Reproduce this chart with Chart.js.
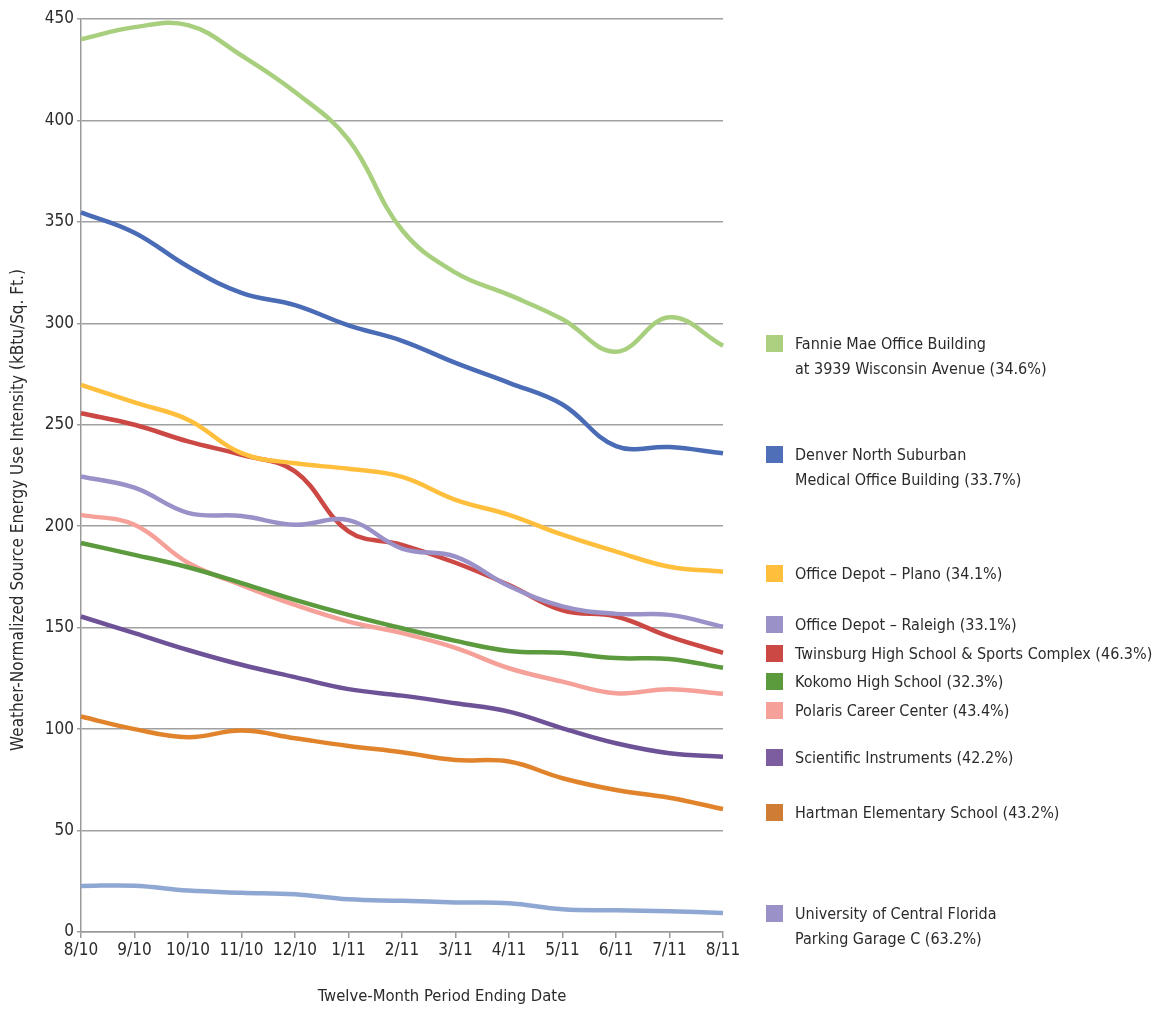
<!DOCTYPE html>
<html>
<head>
<meta charset="utf-8">
<script src="https://cdn.jsdelivr.net/npm/chart.js@4.4.1/dist/chart.umd.min.js"></script>
<style>
    body { margin: 0; background: #fff; }
    #wrap { position: relative; width: 1168px; height: 1009px; }
    #legend { position: absolute; left: 0; top: 0; }
    .legend-item {
        position: absolute;
        left: 766px;
        font-family: 'Liberation Sans Narrow', 'DejaVu Sans Condensed', sans-serif;
        font-size: 16px;
        line-height: 25px;
        color: #2b2b2b;
        white-space: nowrap;
    }
    .legend-item .swatch {
        position: absolute;
        left: 0;
        top: 4px;
        width: 17px;
        height: 17px;
    }
    .legend-item .text { margin-left: 29px; }
</style>
</head>
<body>
<div id="wrap">
    <canvas id="chart" width="1168" height="1009"></canvas>
    <div id="legend"></div>
</div>
<script>
// Categories
const months = ['8/10', '9/10', '10/10', '11/10', '12/10', '1/11', '2/11', '3/11', '4/11', '5/11', '6/11', '7/11', '8/11'];

// Series values (kBtu/Sq. Ft.)
const fannieMae   = [440, 446, 447, 432, 414, 390.5, 346, 325, 314, 302, 286, 303, 289];
const denverNorth = [354.7, 344.7, 328, 315, 309, 299, 291.4, 280.5, 270.7, 260, 239.5, 239, 236];
const depotPlano  = [269.7, 261, 252.5, 236, 231, 228.3, 224.3, 213, 205.6, 195.8, 187.5, 180, 177.6];
const depotRaleigh = [224.5, 219, 206.6, 205, 200.7, 203, 189, 185, 170.5, 160.5, 156.8, 156.3, 150.5];
const twinsburg   = [255.7, 250, 241.8, 235.2, 227, 197.5, 190.8, 182, 171, 158.5, 155.5, 145.6, 137.6];
const kokomo      = [191.7, 185.9, 179.8, 172, 163.7, 156.3, 149.7, 143.5, 138.5, 137.6, 135, 134.6, 130.2];
const polaris     = [205.6, 200.7, 182, 171, 161.2, 153, 147.3, 140, 130, 123.4, 117.7, 119.7, 117.4];
const scientific  = [155.5, 147.3, 139, 131.7, 125.6, 119.7, 116.5, 112.7, 108.6, 100.4, 93, 88.1, 86.4];
const hartman     = [106.2, 100, 96, 99.3, 95.5, 91.7, 88.6, 84.8, 84, 75.8, 70, 66.2, 60.6];
const ucfGarage   = [22.7, 22.8, 20.4, 19.4, 18.6, 16.1, 15.4, 14.6, 14.2, 11.2, 10.7, 10.2, 9.4];

// Series names (legend text)
const seriesNames = [
    'Fannie Mae Office Building<br>at 3939 Wisconsin Avenue (34.6%)',
    'Denver North Suburban<br>Medical Office Building (33.7%)',
    'Office Depot \u2013 Plano (34.1%)',
    'Office Depot \u2013 Raleigh (33.1%)',
    'Twinsburg High School &amp; Sports Complex (46.3%)',
    'Kokomo High School (32.3%)',
    'Polaris Career Center (43.4%)',
    'Scientific Instruments (42.2%)',
    'Hartman Elementary School (43.2%)',
    'University of Central Florida<br>Parking Garage C (63.2%)'
];

// Y tick values
const yTicks = [0, 50, 100, 150, 200, 250, 300, 350, 400, 450];

const seriesData = [fannieMae, denverNorth, depotPlano, depotRaleigh, twinsburg, kokomo, polaris, scientific, hartman, ucfGarage];
const lineColors = ['#a8cf7d', '#4a6bb6', '#ffbf3c', '#9a91c8', '#cc4845', '#5b9a3d', '#f5a098', '#6e5298', '#e0832b', '#8fa8d3'];
const swatchColors = ['#acd07f', '#4f6fb8', '#ffbf3c', '#9a91c8', '#cc4845', '#5b9a3d', '#f5a098', '#7c5ea0', '#cf7c35', '#9a91c8'];
// legend rows: top of each entry, lined up with where the lines end
const legendTops = [331, 442, 561, 612, 641, 669, 698, 745, 800, 901];

const FONT = "'Liberation Sans Narrow', 'DejaVu Sans Condensed', sans-serif";

// Build legend
const legend = document.getElementById('legend');
seriesNames.forEach((name, i) => {
    const item = document.createElement('div');
    item.className = 'legend-item';
    item.style.top = legendTops[i] + 'px';
    item.innerHTML = `<span class="swatch" style="background:${swatchColors[i]}"></span><div class="text">${name}</div>`;
    legend.appendChild(item);
});

// Axis titles drawn at fixed spots
const axisTitles = {
    id: 'axisTitles',
    afterDraw(chart) {
        const ctx = chart.ctx;
        ctx.save();
        ctx.fillStyle = '#2b2b2b';
        ctx.textAlign = 'center';
        ctx.textBaseline = 'middle';
        ctx.font = '16.5px ' + FONT;
        ctx.fillText('Twelve-Month Period Ending Date', 442, 997);
        ctx.font = '17px ' + FONT;
        ctx.translate(19, 510);
        ctx.rotate(-Math.PI / 2);
        ctx.fillText('Weather-Normalized Source Energy Use Intensity (kBtu/Sq. Ft.)', 0, 0);
        ctx.restore();
    }
};

new Chart(document.getElementById('chart').getContext('2d'), {
    type: 'line',
    data: {
        labels: months,
        datasets: seriesData.map((values, i) => ({
            label: seriesNames[i].replace('<br>', ' '),
            data: values,
            borderColor: lineColors[i],
            backgroundColor: lineColors[i],
            borderWidth: 4.5,
            pointRadius: 0,
            tension: 0.4,
            fill: false
        }))
    },
    options: {
        responsive: false,
        animation: false,
        layout: { padding: { left: 0, right: 445, top: 19, bottom: 0 } },
        plugins: {
            legend: { display: false },
            tooltip: { enabled: false }
        },
        scales: {
            x: {
                offset: false,
                afterFit: scale => { scale.height = 77; },
                border: { color: '#9a9a9a', width: 1.5 },
                grid: {
                    drawOnChartArea: false,
                    drawTicks: true,
                    tickLength: 6,
                    color: '#9a9a9a',
                    lineWidth: 1.5
                },
                ticks: {
                    color: '#2b2b2b',
                    font: { family: FONT, size: 17 },
                    padding: 2,
                    maxRotation: 0,
                    autoSkip: false
                }
            },
            y: {
                min: 0,
                max: 450,
                afterFit: scale => { scale.width = 81; },
                afterBuildTicks: scale => { scale.ticks = yTicks.map(v => ({ value: v })); },
                border: { color: '#9a9a9a', width: 1.5 },
                grid: {
                    color: '#a0a0a0',
                    lineWidth: 1.5,
                    tickLength: 4
                },
                ticks: {
                    color: '#2b2b2b',
                    font: { family: FONT, size: 17 },
                    padding: 3
                }
            }
        }
    },
    plugins: [axisTitles]
});
</script>
</body>
</html>
